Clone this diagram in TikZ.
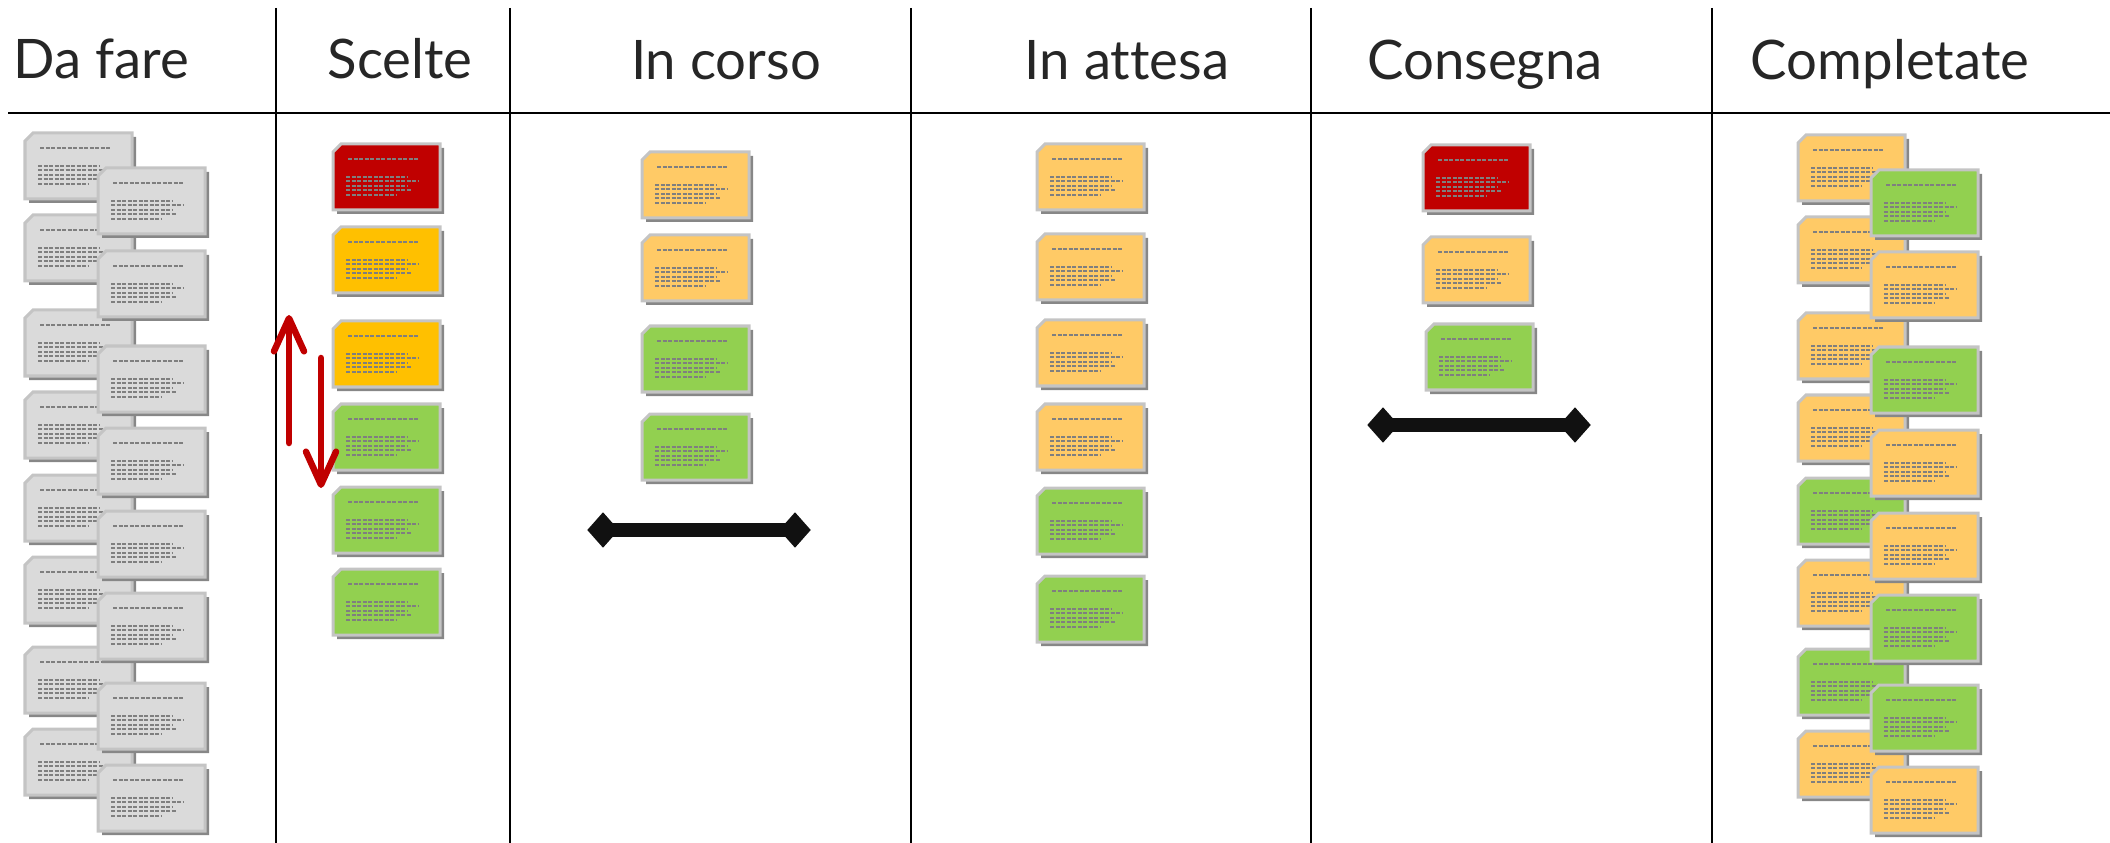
\documentclass[tikz,border=0pt]{standalone}
\usepackage{fontspec}
\setmainfont{Lato}[Ligatures=NoCommon]
\usetikzlibrary{arrows.meta,shapes.geometric}

\definecolor{cardred}{HTML}{C00000}
\definecolor{cardamber}{HTML}{FFC000}
\definecolor{cardorange}{HTML}{FFCA66}
\definecolor{cardgreen}{HTML}{92D050}
\definecolor{cardgrey}{HTML}{DADADA}
\definecolor{cardedge}{HTML}{C4C4C4}
\definecolor{cardshadow}{HTML}{878787}
\definecolor{cardink}{HTML}{7F7F7F}
\definecolor{headtext}{HTML}{262626}
\definecolor{barink}{HTML}{111111}

\tikzset{
  head/.style={font=\fontsize{15.5}{18}\selectfont, text=headtext, anchor=base, inner sep=0pt},
  rule/.style={line width=0.02cm},
  cardtext/.style={draw=cardink, line width=0.017cm, dash pattern=on 0.04cm off 0.015cm},
  pics/card/.style={code={
    \fill[cardshadow] (4,12) -- (12,4) -- (111,4) -- (111,70) -- (4,70) -- cycle;
    \filldraw[fill=#1, draw=cardedge, line width=0.03cm] (0,8) -- (8,0) -- (107,0) -- (107,66) -- (0,66) -- cycle;
    \draw[cardtext] (15,15) -- (86,15);
    \draw[cardtext] (13,33) -- (75,33);
    \draw[cardtext] (13,37) -- (85,37);
    \draw[cardtext] (13,42) -- (75,42);
    \draw[cardtext] (13,46) -- (78,46);
    \draw[cardtext] (13,51) -- (64,51);
  }},
  movearrow/.style={draw=cardred, line width=0.065cm, line cap=round,
    -{Straight Barb[length=0.33cm, width=0.3cm, line width=0.065cm, round]}},
  limittip/.style={diamond, fill=barink, minimum width=0.32cm, minimum height=0.36cm, inner sep=0pt},
  limitbar/.style={draw=barink, line width=0.13cm}
}

\begin{document}
\begin{tikzpicture}[x=0.01cm,y=-0.01cm]
\useasboundingbox (0,0) rectangle (2110,843);

% board lines
\draw[rule] (8,113) -- (2110,113);
\draw[rule] (276,8) -- (276,843);
\draw[rule] (510,8) -- (510,843);
\draw[rule] (911,8) -- (911,843);
\draw[rule] (1311,8) -- (1311,843);
\draw[rule] (1712,8) -- (1712,843);

% column heads
\node[head,anchor=base west] (h-dafare) at (13,79) {Da fare};
\node[head] (h-scelte) at (400,79) {Scelte};
\node[head] (h-incorso) at (726,80) {In corso};
\node[head] (h-inattesa) at (1127,80) {In attesa};
\node[head] (h-consegna) at (1485,80) {Consegna};
\node[head] (h-completate) at (1890,80) {Completate};

% Da fare
\foreach \y [count=\i] in {133,215,310,392,475,557,647,729}
  \pic (df-l\i) at (25,\y) {card=cardgrey};
\foreach \y [count=\i] in {168,251,346,428,511,593,683,765}
  \pic (df-r\i) at (98,\y) {card=cardgrey};

% Scelte
\pic (sc1) at (333,144) {card=cardred};
\pic (sc2) at (333,227) {card=cardamber};
\pic (sc3) at (333,321) {card=cardamber};
\pic (sc4) at (333,404) {card=cardgreen};
\pic (sc5) at (333,487) {card=cardgreen};
\pic (sc6) at (333,569) {card=cardgreen};
\coordinate (up-from) at (289,443);
\coordinate (up-to) at (289,315);
\coordinate (down-from) at (321,358);
\coordinate (down-to) at (321,488);
\draw[movearrow] (up-from) -- (up-to);
\draw[movearrow] (down-from) -- (down-to);

% In corso
\pic (ic1) at (642,152) {card=cardorange};
\pic (ic2) at (642,235) {card=cardorange};
\pic (ic3) at (642,326) {card=cardgreen};
\pic (ic4) at (642,414) {card=cardgreen};
\node[limittip] (ic-l) at (603,530) {};
\node[limittip] (ic-r) at (795,530) {};
\draw[limitbar] (ic-l.center) -- (ic-r.center);

% In attesa
\pic (ia1) at (1037,144) {card=cardorange};
\pic (ia2) at (1037,234) {card=cardorange};
\pic (ia3) at (1037,320) {card=cardorange};
\pic (ia4) at (1037,404) {card=cardorange};
\pic (ia5) at (1037,488) {card=cardgreen};
\pic (ia6) at (1037,576) {card=cardgreen};

% Consegna
\pic (cs1) at (1423,145) {card=cardred};
\pic (cs2) at (1423,237) {card=cardorange};
\pic (cs3) at (1426,324) {card=cardgreen};
\node[limittip] (cs-l) at (1383,425) {};
\node[limittip] (cs-r) at (1575,425) {};
\draw[limitbar] (cs-l.center) -- (cs-r.center);

% Completate
\foreach \y/\c [count=\i] in {135/cardorange,217/cardorange,313/cardorange,395/cardorange,
    478/cardgreen,560/cardorange,649/cardgreen,731/cardorange}
  \pic (co-l\i) at (1798,\y) {card=\c};
\foreach \y/\c [count=\i] in {170/cardgreen,252/cardorange,347/cardgreen,430/cardorange,
    513/cardorange,595/cardgreen,685/cardgreen,767/cardorange}
  \pic (co-r\i) at (1871,\y) {card=\c};
\end{tikzpicture}
\end{document}
